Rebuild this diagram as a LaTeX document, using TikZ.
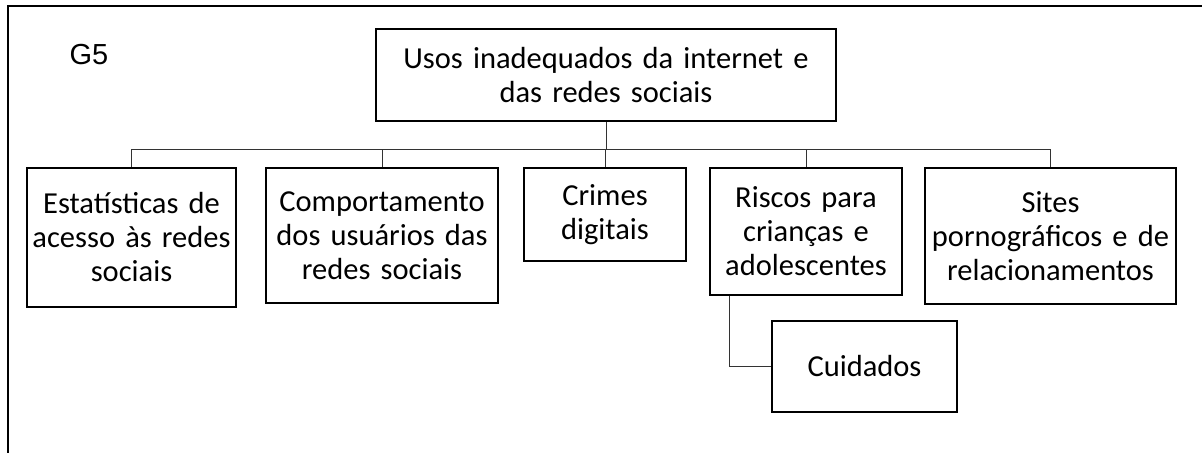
\documentclass[tikz,border=0pt]{standalone}
\usepackage{fontspec}
\setmainfont{Carlito}
\newfontfamily\labelfont{Liberation Sans}
\tikzset{
    topic/.style={draw, line width=2pt, align=center, inner sep=0pt,
        font=\fontsize{30.5}{34}\selectfont},
    link/.style={line width=1pt, draw=black!80}
}
\begin{document}
\begin{tikzpicture}[x=1pt, y=-1pt]
    \useasboundingbox (0,0) rectangle (1202,453);
    \draw [line width=2pt] (1202,5.7)--(7.5,5.7)--(7.5,453);
    \node (g5) at (66,64) [anchor=base west, font=\labelfont\fontsize{29}{34}\selectfont] {G5};
    \node (top) at (606,75) [topic, minimum width=460, minimum height=92, text width=450] {Usos inadequados da internet e\\das redes sociais};
    \node (est) at (131.5,237.5) [topic, minimum width=209, minimum height=139, text width=205] {Estatísticas de\\acesso às redes\\sociais};
    \node (comp) at (382,235.5) [topic, minimum width=232, minimum height=135, text width=228] {Comportamento\\dos usuários das\\redes sociais};
    \node (crim) at (605,214.5) [topic, minimum width=162, minimum height=93, text width=158] {Crimes\\digitais};
    \node (risc) at (806,231.5) [topic, minimum width=192, minimum height=127, text width=188] {Riscos para\\crianças e\\adolescentes};
    \node (sites) at (1050.5,236) [topic, minimum width=251, minimum height=136, text width=247] {Sites\\pornográficos e de\\relacionamentos};
    \node (cuid) at (864.5,366.5) [topic, minimum width=185, minimum height=91, text width=181] {Cuidados};
    \coordinate (bus) at (606,149);
    \draw [link] (top.south)--(top.south |- bus);
    \draw [link] (est.north |- bus)--(sites.north |- bus);
    \foreach \n in {est,comp,crim,risc,sites}
        \draw [link] (\n.north)--(\n.north |- bus);
    \draw [link] ([xshift=20pt]risc.south west) |- (cuid.west);
\end{tikzpicture}
\end{document}
